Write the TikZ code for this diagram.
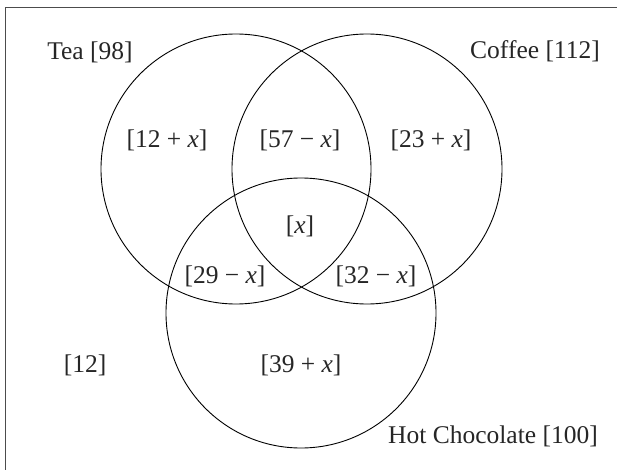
\documentclass[tikz,border=0pt]{standalone}
\usepackage{fontspec}
\setmainfont{Liberation Serif}
\begin{document}
\begin{tikzpicture}[x=1pt,y=-1pt,
  setcirc/.style={circle,draw=black,line width=0.9pt,minimum size=270pt,inner sep=0pt},
  lbl/.style={anchor=base,inner sep=0pt,font=\fontsize{25.5}{30}\selectfont,text=black!85},
  frameline/.style={draw=black!70,line width=0.9pt}]
\useasboundingbox (0,0) rectangle (617,470);
% frame (only top and left edges are visible)
\coordinate (fbl) at (5,472);
\coordinate (ftl) at (5,7);
\coordinate (ftr) at (619,7);
\draw[frameline] (fbl) -- (ftl) -- (ftr);
% circles
\node[setcirc] (tea) at (236,169) {};
\node[setcirc] (coffee) at (367,169) {};
\node[setcirc] (hot) at (301,313) {};
% labels
\node[lbl] (lt) at (90,60) {Tea [98]};
\node[lbl,anchor=base east] (lc) at (600,59) {Coffee [112]};
\node[lbl,anchor=base east] (lh) at (598,443) {Hot Chocolate [100]};
\node[lbl] (r1) at (167,148) {[12 + \textit{x}]};
\node[lbl] (r2) at (300,148) {[57 − \textit{x}]};
\node[lbl] (r3) at (431,148) {[23 + \textit{x}]};
\node[lbl] (r4) at (300,233) {[\textit{x}]};
\node[lbl] (r5) at (225,283) {[29 − \textit{x}]};
\node[lbl] (r6) at (376,283) {[32 − \textit{x}]};
\node[lbl] (r7) at (301,372) {[39 + \textit{x}]};
\node[lbl] (r8) at (85,372) {[12]};
\end{tikzpicture}
\end{document}
